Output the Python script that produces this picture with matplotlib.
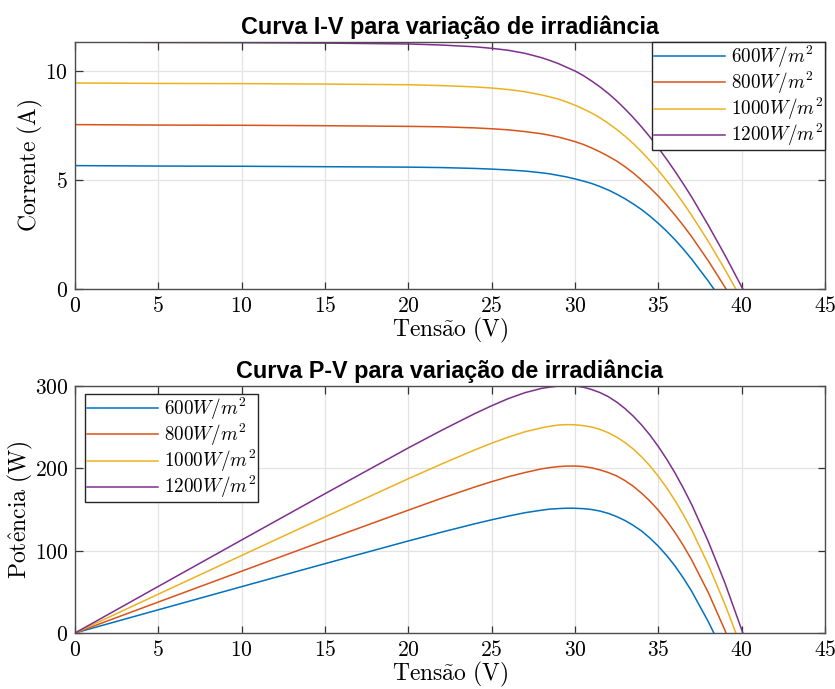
import matplotlib.pyplot as plt
from matplotlib.ticker import FuncFormatter, MultipleLocator

plt.rcParams['mathtext.fontset'] = 'cm'

# values
labels = [r'$600W/m^2$', r'$800W/m^2$', r'$1000W/m^2$', r'$1200W/m^2$']
colors = ['#0072BD', '#D95319', '#EDB120', '#7E2F8E']

v_600 = [0, 5, 10, 15, 20, 22, 24, 25, 26, 27, 28, 28.5, 29, 29.5, 30, 30.5, 31, 31.5, 32, 32.5,
         33, 33.5, 34, 34.5, 35, 35.5, 36, 36.5, 37, 38, 38.33]
i_600 = [5.66, 5.64, 5.63, 5.61, 5.59, 5.57, 5.53, 5.50, 5.46, 5.41, 5.33, 5.28, 5.21, 5.14, 5.05,
         4.95, 4.84, 4.70, 4.54, 4.35, 4.14, 3.90, 3.64, 3.34, 3.01, 2.65, 2.26, 1.83, 1.37, 0.36, 0]
p_600 = [0, 28.2, 56.3, 84.2, 111.8, 122.5, 132.7, 137.5, 142.0, 146.1, 149.2, 150.5, 151.1, 151.6,
         151.5, 151.0, 150.0, 148.1, 145.3, 141.4, 136.6, 130.7, 123.8, 115.2, 105.4, 94.1, 81.4,
         66.8, 50.7, 13.7, 0]

v_800 = [0, 5, 10, 15, 20, 22, 24, 25, 26, 27, 28, 28.5, 29, 29.5, 30, 30.5, 31, 31.5, 32, 32.5,
         33, 33.5, 34, 34.5, 35, 35.5, 36, 36.5, 37, 38, 39, 39.06]
i_800 = [7.54, 7.52, 7.51, 7.49, 7.46, 7.44, 7.39, 7.35, 7.30, 7.22, 7.12, 7.05, 6.97, 6.87, 6.76,
         6.63, 6.47, 6.29, 6.09, 5.87, 5.61, 5.32, 4.99, 4.64, 4.26, 3.84, 3.39, 2.91, 2.40, 1.29,
         0.08, 0]
p_800 = [0, 37.6, 75.1, 112.4, 149.2, 163.7, 177.4, 183.8, 189.8, 194.9, 199.4, 200.9, 202.1, 202.7,
         202.8, 202.2, 200.6, 198.1, 194.9, 190.8, 185.1, 178.2, 169.7, 160.1, 149.1, 136.3, 122.0,
         106.2, 88.8, 49.0, 3.1, 0]

v_1000 = [0, 5, 10, 15, 20, 22, 24, 25, 26, 27, 28, 28.5, 29, 29.5, 30, 30.5, 31, 31.5, 32, 32.5,
          33, 33.5, 34, 34.5, 35, 35.5, 36, 36.5, 37, 38, 39, 39.65]
i_1000 = [9.45, 9.43, 9.42, 9.40, 9.37, 9.33, 9.27, 9.22, 9.15, 9.05, 8.90, 8.81, 8.71, 8.58, 8.43,
          8.26, 8.07, 7.85, 7.60, 7.32, 7.01, 6.67, 6.29, 5.88, 5.44, 4.97, 4.47, 3.94, 3.38, 2.18,
          0.89, 0]
p_1000 = [0, 47.2, 94.2, 141.0, 187.4, 205.3, 222.5, 230.5, 237.9, 244.4, 249.2, 251.1, 252.6, 253.1,
          252.9, 251.9, 250.2, 247.3, 243.2, 237.9, 231.3, 223.4, 213.9, 202.9, 190.4, 176.4, 160.9,
          143.8, 125.1, 82.8, 34.7, 0]

v_1200 = [0, 5, 10, 15, 20, 22, 24, 25, 26, 27, 28, 28.5, 29, 29.5, 30, 30.5, 31, 31.5, 32, 32.5,
          33, 33.5, 34, 34.5, 35, 35.5, 36, 36.5, 37, 38, 39, 40, 40.07]
i_1200 = [11.33, 11.31, 11.30, 11.28, 11.24, 11.19, 11.11, 11.04, 10.95, 10.81, 10.61, 10.48, 10.34,
          10.17, 10.00, 9.79, 9.54, 9.27, 8.97, 8.63, 8.26, 7.86, 7.43, 6.97, 6.47, 5.95, 5.40, 4.82,
          4.22, 2.92, 1.55, 0.10, 0]
p_1200 = [0, 56.6, 113.0, 169.2, 224.8, 246.2, 266.6, 276.0, 284.7, 291.9, 297.1, 298.7, 299.9, 300.0,
          300.0, 298.6, 295.7, 292.0, 287.0, 280.5, 272.6, 263.3, 252.6, 240.3, 226.5, 211.2, 194.4,
          175.9, 156.1, 111.0, 60.5, 4.0, 0]

voltages = [v_600, v_800, v_1000, v_1200]
currents = [i_600, i_800, i_1000, i_1200]
powers = [p_600, p_800, p_1000, p_1200]

fig = plt.figure(figsize=(8.35, 6.89), dpi=100)
ax1 = fig.add_axes([75 / 835, 1 - 289 / 689, 750 / 835, 247 / 689])
ax2 = fig.add_axes([75 / 835, 1 - 633 / 689, 750 / 835, 247 / 689])

tex = FuncFormatter(lambda v, pos: f'${v:g}$')


def style(ax, ylabel, title, ystep):
    ax.set_xlim(0, 45)
    ax.xaxis.set_major_locator(MultipleLocator(5))
    ax.yaxis.set_major_locator(MultipleLocator(ystep))
    ax.xaxis.set_major_formatter(tex)
    ax.yaxis.set_major_formatter(tex)
    ax.grid(True, color='#e3e3e3', lw=0.9)
    ax.set_axisbelow(True)
    ax.tick_params(direction='in', length=5.4, width=0.9, color='0.2', labelsize=15.5,
                   top=True, right=True, pad=5)
    for sp in ax.spines.values():
        sp.set_color('0.3')
        sp.set_linewidth(1.0)
    ax.set_xlabel(r'$\mathrm{Tens\tilde{a}o\ (V)}$', fontsize=17, labelpad=0)
    ax.set_ylabel(ylabel, fontsize=17, labelpad=0)
    ax.set_title(title, fontsize=16.8, fontweight='bold', family='Liberation Sans', pad=6)


def add_legend(ax, loc, anchor):
    leg = ax.legend(loc=loc, bbox_to_anchor=anchor, borderaxespad=0, fontsize=13.8,
                    handlelength=3.7, handletextpad=0.3, labelspacing=0.0, borderpad=0.1,
                    fancybox=False, framealpha=1, edgecolor='0.15')
    leg.get_frame().set_linewidth(1.0)


for v, i, c, lab in zip(voltages, currents, colors, labels):
    ax1.plot(v, i, color=c, lw=1.1, label=lab)
ax1.set_ylim(0, max(i_1200))
style(ax1, r'$\mathrm{Corrente\ (A)}$', 'Curva I-V para variação de irradiância', 5)
add_legend(ax1, 'upper right', (1, 1))

for v, p, c, lab in zip(voltages, powers, colors, labels):
    ax2.plot(v, p, color=c, lw=1.1, label=lab)
ax2.set_ylim(0, 300)
style(ax2, r'$\mathrm{Pot\hat{e}ncia\ (W)}$', 'Curva P-V para variação de irradiância', 100)
add_legend(ax2, 'upper left', (10 / 750, 1 - 8 / 247))

fig.savefig('out.png', dpi=100)
